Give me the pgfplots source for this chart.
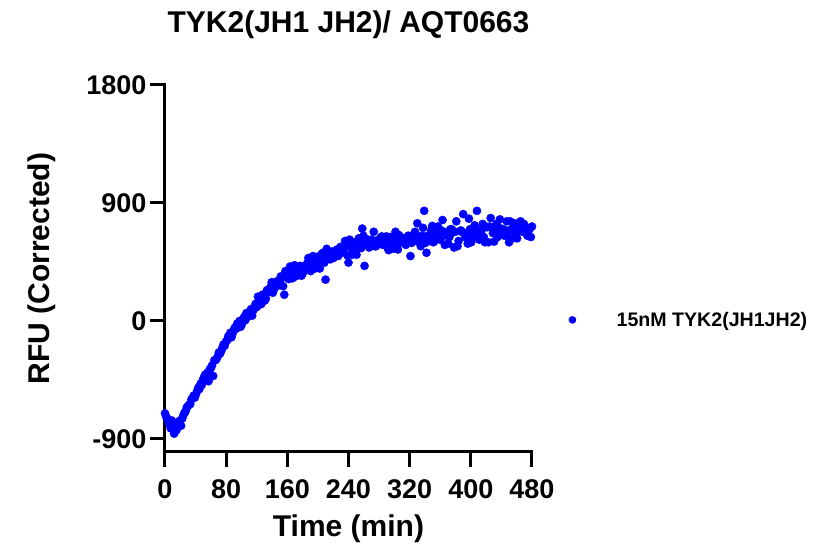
\documentclass[border=0pt]{standalone}
\usepackage{fontspec}
\setmainfont{Liberation Sans}
\usepackage{pgfplots}
\pgfplotsset{compat=1.18}
\definecolor{dotblue}{RGB}{0,0,255}
\begin{document}
\begin{tikzpicture}[x=1pt,y=1pt]
\path[use as bounding box] (-165,-93) rectangle (648,452);
\begin{axis}[
  at={(0,0)}, anchor=south west,
  scale only axis, width=367pt, height=367pt,
  xmin=0, xmax=480, ymin=-1000, ymax=1800,
  axis lines=left,
  axis line style={line width=3pt, -, line cap=rect},
  xtick={0,80,160,240,320,400,480},
  ytick={-900,0,900,1800},
  yticklabels={-900,0,900,1800},
  tick align=outside,
  major tick length=15pt,
  tick style={line width=3pt, black},
  ticklabel style={font=\fontsize{27}{32}\selectfont\bfseries},
  xticklabel style={yshift=-9pt},
  /pgf/number format/assume math mode=true,
  clip=false,
  title={TYK2(JH1 JH2)/ AQT0663},
  title style={font=\fontsize{30}{36}\selectfont\bfseries, at={(axis description cs:0.5,1)}, anchor=center, yshift=54pt},
  xlabel={Time (min)},
  xlabel style={font=\fontsize{30}{36}\selectfont\bfseries, at={(axis description cs:0.5,0)}, anchor=center, yshift=-77pt},
  ylabel={RFU (Corrected)},
  ylabel style={font=\fontsize{30}{36}\selectfont\bfseries, at={(axis description cs:0,0.5)}, anchor=center, yshift=123pt},
  legend style={draw=none, fill=none, at={(axis description cs:1.09,0.36)}, anchor=west, font=\fontsize{19.6}{24}\selectfont\bfseries},
  legend cell align=left,
  legend image code/.code={\fill[dotblue] (0pt,0pt) circle (3.6pt); \path (-4pt,0pt) (42pt,0pt);},
]
\addplot[only marks, mark=*, mark size=4.1pt, color=dotblue, mark options={draw=dotblue, fill=dotblue}] coordinates {
(0,-705) (3,-745) (6,-790) (9,-760) (12,-860) (15,-835) (18,-790) (21,-800) (24,-720) (27,-690)
(30,-650) (33,-635) (36,-590) (39,-585) (42,-535) (45,-520) (48,-490) (51,-430) (54,-445) (57,-460)
(60,-360) (63,-420) (66,-300) (69,-270) (72,-250) (75,-205) (78,-190) (81,-150) (84,-110) (87,-125)
(90,-70) (93,-60) (96,-30) (99,-45) (102,10) (105,5) (108,30) (111,70) (114,40) (117,110)
(120,105) (123,150) (126,130) (129,200) (132,170) (135,230) (138,260) (141,215) (144,280) (147,300)
(150,290) (153,330) (156,200) (159,360) (162,320) (165,345) (168,390) (171,340) (174,370) (177,420)
(180,360) (183,405) (186,440) (189,395) (192,430) (195,470) (198,415) (201,455) (204,500) (207,520)
(210,315) (213,490) (216,470) (219,530) (222,505) (225,545) (228,510) (231,560) (234,525) (237,580)
(240,445) (243,560) (246,600) (249,540) (252,575) (255,610) (258,705) (261,420) (264,590) (267,560)
(270,620) (273,680) (276,570) (279,600) (282,635) (285,580) (288,610) (291,560) (294,640) (297,595)
(300,620) (303,570) (306,655) (309,600) (312,630) (315,580) (318,650) (321,495) (324,610) (327,680)
(330,745) (333,600) (336,650) (339,840) (342,520) (345,630) (348,690) (351,600) (354,660) (357,720)
(360,620) (363,770) (366,580) (369,680) (372,640) (375,700) (378,560) (381,760) (384,610) (387,690)
(390,815) (393,640) (396,590) (399,700) (402,660) (405,730) (408,840) (411,620) (414,690) (417,640)
(420,720) (423,600) (426,785) (429,670) (432,710) (435,640) (438,775) (441,690) (444,650) (447,760)
(450,600) (453,700) (456,740) (459,660) (462,710) (465,760) (468,680) (471,720) (474,650) (477,700)
(480,720)
(1.5,-730) (4.5,-770) (7.5,-820) (10.5,-800) (13.5,-830) (16.5,-780) (19.5,-760) (22.5,-745) (25.5,-700) (28.5,-660)
(31.5,-640) (34.5,-600) (37.5,-570) (40.5,-560) (43.5,-510) (46.5,-480) (49.5,-450) (52.5,-410) (55.5,-395) (58.5,-370)
(61.5,-340) (64.5,-300) (67.5,-290) (70.5,-240) (73.5,-230) (76.5,-180) (79.5,-160) (82.5,-120) (85.5,-90) (88.5,-95)
(91.5,-50) (94.5,-20) (97.5,0) (100.5,-25) (103.5,30) (106.5,60) (109.5,45) (112.5,90) (115.5,80) (118.5,130)
(121.5,185) (124.5,125) (127.5,200) (130.5,155) (133.5,235) (136.5,225) (139.5,295) (142.5,240) (145.5,300) (148.5,270)
(151.5,340) (154.5,265) (157.5,380) (160.5,325) (163.5,415) (166.5,325) (169.5,425) (172.5,355) (175.5,380) (178.5,345)
(181.5,415) (184.5,400) (187.5,480) (190.5,380) (193.5,495) (196.5,400) (199.5,490) (202.5,400) (205.5,515) (208.5,445)
(211.5,550) (214.5,480) (217.5,525) (220.5,480) (223.5,520) (226.5,495) (229.5,565) (232.5,530) (235.5,610) (238.5,500)
(241.5,620) (244.5,505) (247.5,600) (250.5,505) (253.5,630) (256.5,555) (259.5,650) (262.5,590) (265.5,620) (268.5,570)
(271.5,610) (274.5,570) (277.5,615) (280.5,595) (283.5,645) (286.5,610) (289.5,645) (292.5,540) (295.5,640) (298.5,550)
(301.5,680) (304.5,545) (307.5,640) (310.5,610) (313.5,630) (316.5,605) (319.5,640) (322.5,595) (325.5,660) (328.5,610)
(331.5,640) (334.5,570) (337.5,710) (340.5,595) (343.5,650) (346.5,610) (349.5,725) (352.5,610) (355.5,660) (358.5,625)
(361.5,690) (364.5,650) (367.5,655) (370.5,590) (373.5,700) (376.5,675) (379.5,680) (382.5,570) (385.5,685) (388.5,680)
(391.5,670) (394.5,635) (397.5,780) (400.5,600) (403.5,635) (406.5,670) (409.5,690) (412.5,675) (415.5,740) (418.5,600)
(421.5,715) (424.5,720) (427.5,710) (430.5,605) (433.5,740) (436.5,700) (439.5,705) (442.5,700) (445.5,690) (448.5,655)
(451.5,760) (454.5,630) (457.5,745) (460.5,630) (463.5,740) (466.5,685) (469.5,740) (472.5,690) (475.5,705) (478.5,640)
};
\addlegendentry{15nM TYK2(JH1JH2)}
\end{axis}
\end{tikzpicture}
\end{document}
